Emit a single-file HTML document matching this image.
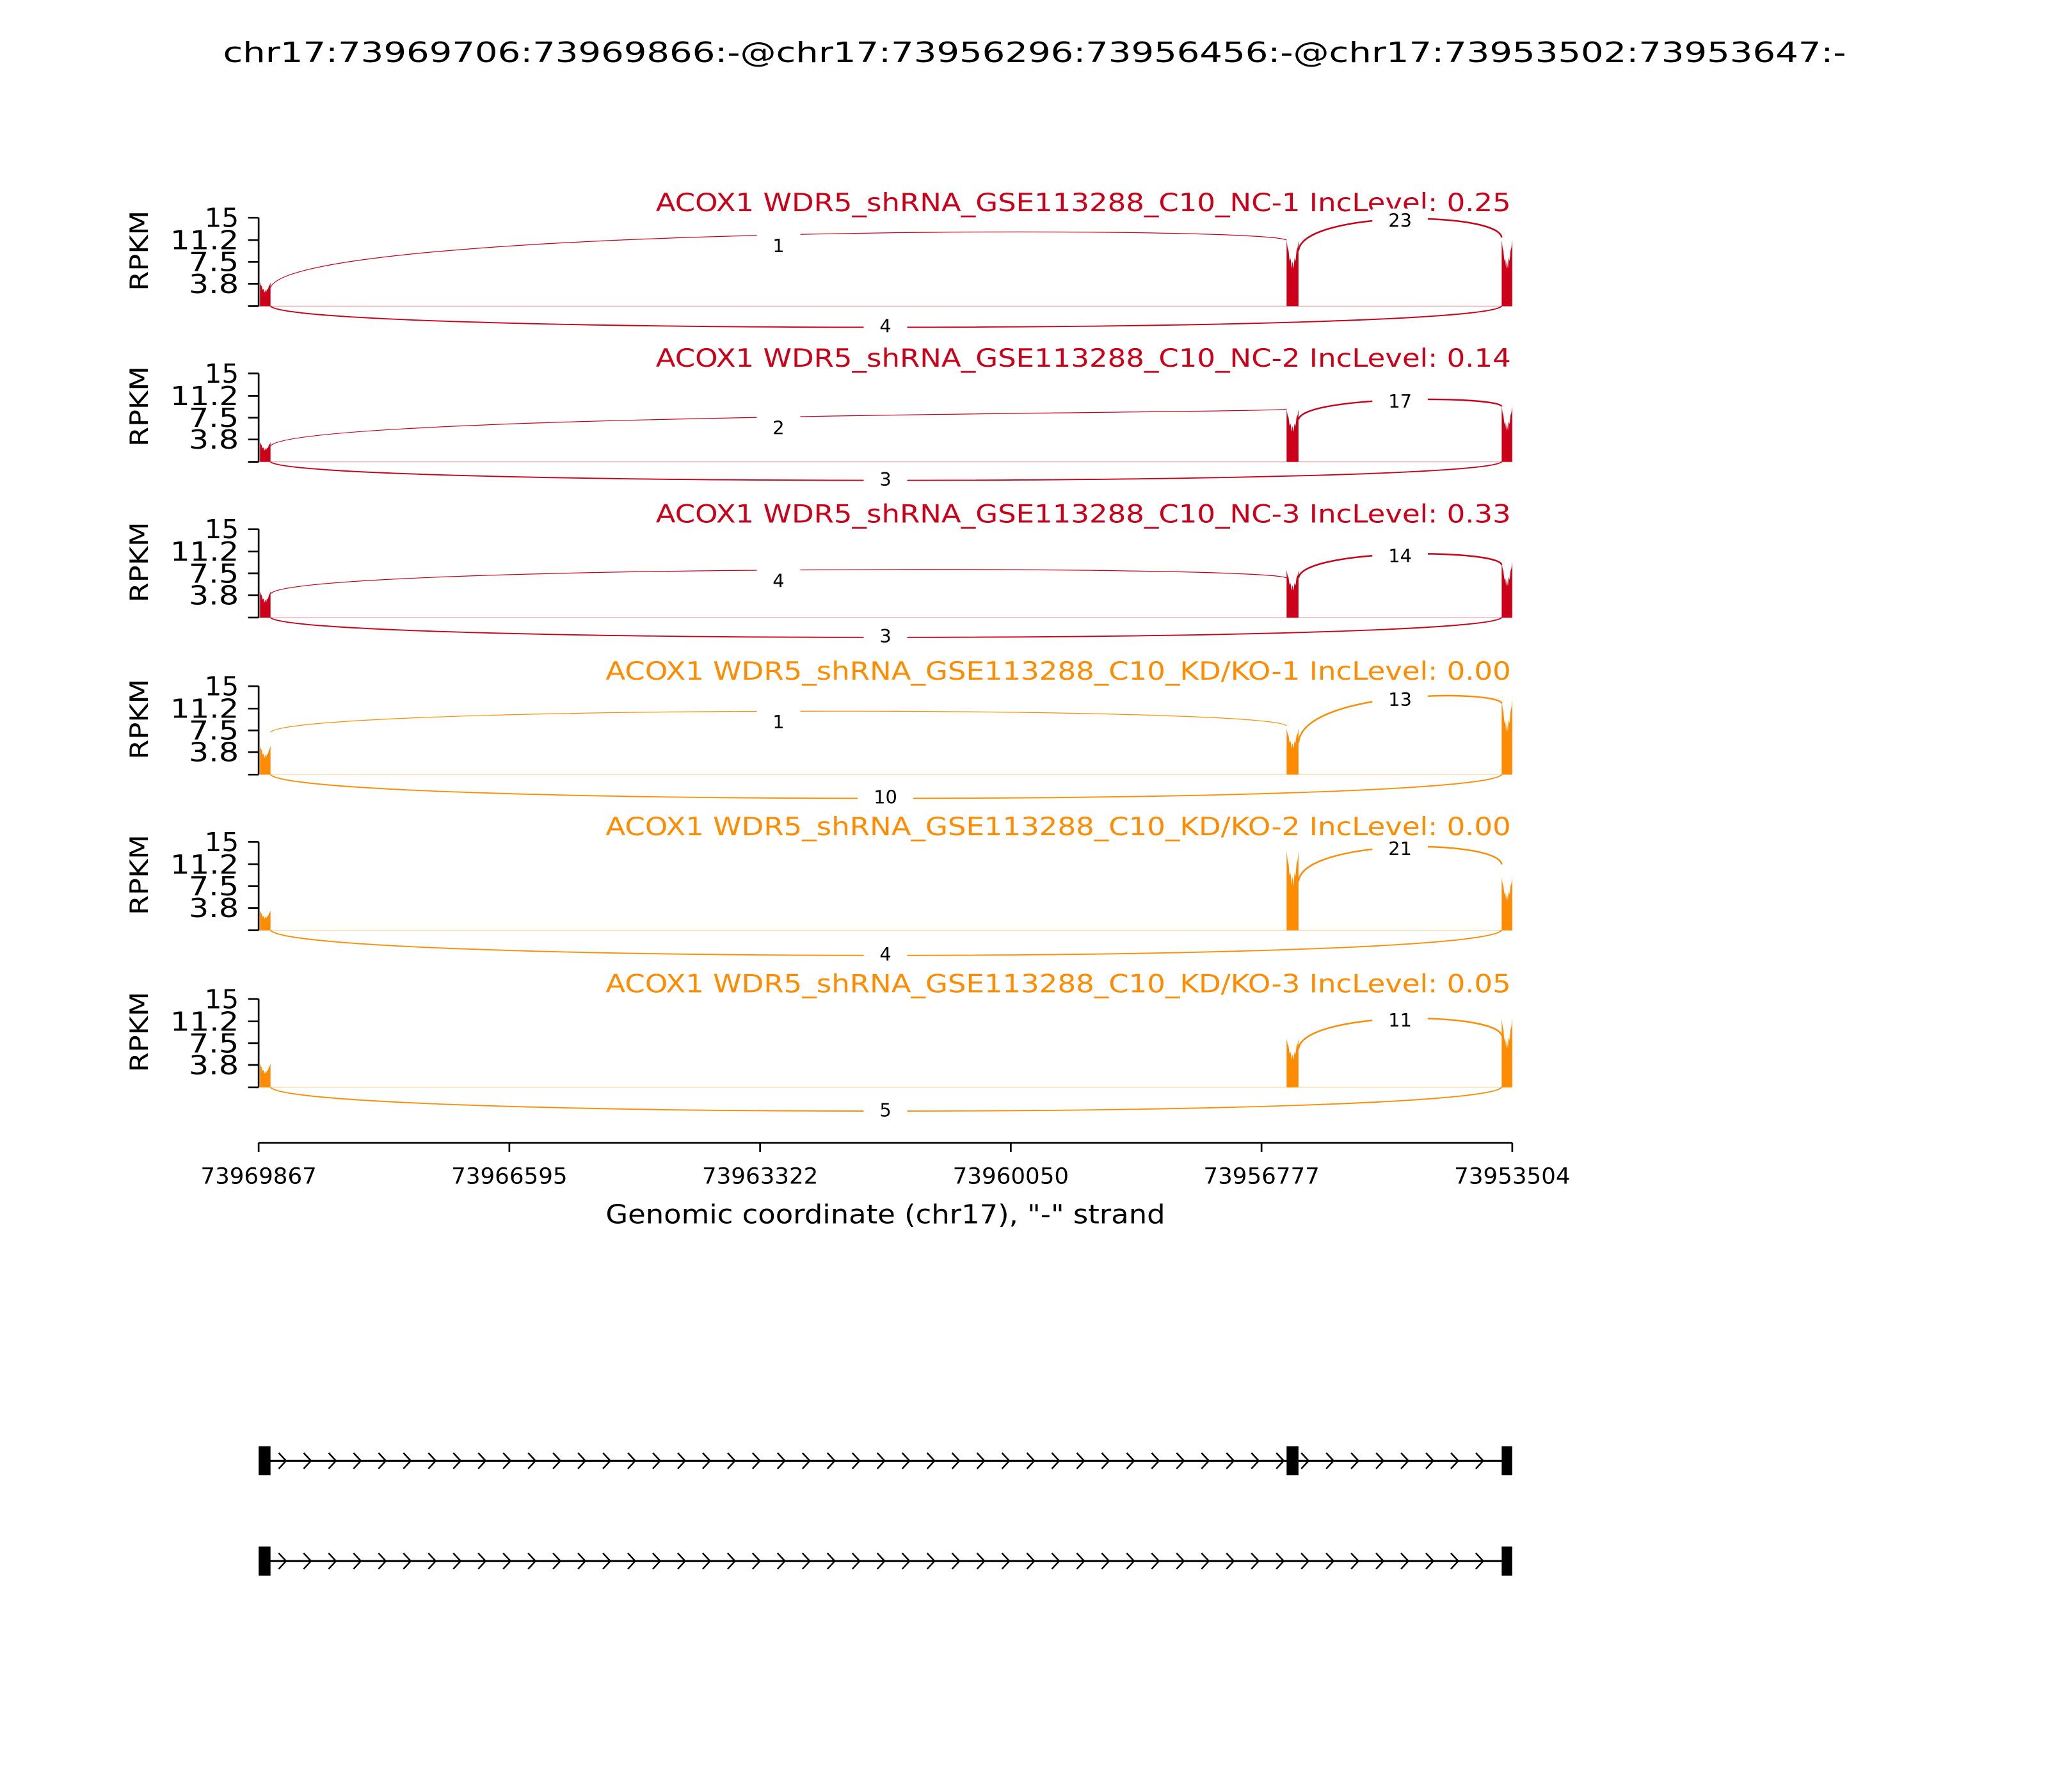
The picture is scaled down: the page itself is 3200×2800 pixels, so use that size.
<!DOCTYPE html>
<html><head><meta charset="utf-8">
<style>
html,body{margin:0;padding:0;background:#fff;}
svg{display:block;}
text{font-family:"DejaVu Sans","Liberation Sans",sans-serif;}
</style></head>
<body>
<svg id="s" xmlns="http://www.w3.org/2000/svg" width="3200" height="2800" viewBox="0 0 1552 1358" preserveAspectRatio="none">
<rect width="1552" height="1358" fill="#fff"/>
<text x="784" y="47" font-size="21" text-anchor="middle" textLength="1230" lengthAdjust="spacingAndGlyphs">chr17:73969706:73969866:-@chr17:73956296:73956456:-@chr17:73953502:73953647:-</text>
<g id="panels"></g>
<!-- x axis -->
<g stroke="#000" stroke-width="1.3" fill="none">
<line x1="196" y1="866" x2="1146" y2="866"/>
<line x1="196" y1="866" x2="196" y2="873"/><line x1="386" y1="866" x2="386" y2="873"/>
<line x1="576" y1="866" x2="576" y2="873"/><line x1="766" y1="866" x2="766" y2="873"/>
<line x1="956" y1="866" x2="956" y2="873"/><line x1="1146" y1="866" x2="1146" y2="873"/>
</g>
<g font-size="17" text-anchor="middle" lengthAdjust="spacingAndGlyphs">
<text x="196" y="897" textLength="88" lengthAdjust="spacingAndGlyphs">73969867</text><text x="386" y="897" textLength="88" lengthAdjust="spacingAndGlyphs">73966595</text><text x="576" y="897" textLength="88" lengthAdjust="spacingAndGlyphs">73963322</text>
<text x="766" y="897" textLength="88" lengthAdjust="spacingAndGlyphs">73960050</text><text x="956" y="897" textLength="88" lengthAdjust="spacingAndGlyphs">73956777</text><text x="1146" y="897" textLength="88" lengthAdjust="spacingAndGlyphs">73953504</text>
</g>
<text x="671" y="927" font-size="20" text-anchor="middle" textLength="424" lengthAdjust="spacingAndGlyphs">Genomic coordinate (chr17), "-" strand</text>
<g id="genes"></g>
</svg>
<script>
var NS="http://www.w3.org/2000/svg";
function el(p,t,a,txt){var e=document.createElementNS(NS,t);for(var k in a)e.setAttribute(k,a[k]);if(txt!==undefined)e.textContent=txt;p.appendChild(e);return e;}
var P=document.getElementById("panels");
var RED="#cc0018",OR="#ff8c00";
var panels=[
 {b:232,c:RED,t:"ACOX1 WDR5_shRNA_GSE113288_C10_NC-1 IncLevel: 0.25",lc:18,mc:50,rc:50,
  a1:{y1:218,y2:182,pk:178,l:"1"},a2:{y1:190,y2:180,pk:166,l:"23"},lo:{pk:248,l:"4"}},
 {b:350,c:RED,t:"ACOX1 WDR5_shRNA_GSE113288_C10_NC-2 IncLevel: 0.14",lc:15,mc:40,rc:42,
  a1:{y1:338,y2:310,pk:316,l:"2"},a2:{y1:318,y2:308,pk:303,l:"17"},lo:{pk:364,l:"3"}},
 {b:468,c:RED,t:"ACOX1 WDR5_shRNA_GSE113288_C10_NC-3 IncLevel: 0.33",lc:20,mc:36,rc:42,
  a1:{y1:450,y2:438,pk:432,l:"4"},a2:{y1:438,y2:428,pk:420,l:"14"},lo:{pk:483,l:"3"}},
 {b:587,c:OR,t:"ACOX1 WDR5_shRNA_GSE113288_C10_KD/KO-1 IncLevel: 0.00",lc:22,mc:35,rc:57,
  a1:{y1:555,y2:550,pk:539,l:"1"},a2:{y1:563,y2:533,pk:529,l:"13"},lo:{pk:605,l:"10"}},
 {b:705,c:OR,t:"ACOX1 WDR5_shRNA_GSE113288_C10_KD/KO-2 IncLevel: 0.00",lc:15,mc:60,rc:40,
  a1:null,a2:{y1:668,y2:655,pk:642,l:"21"},lo:{pk:724,l:"4"}},
 {b:824,c:OR,t:"ACOX1 WDR5_shRNA_GSE113288_C10_KD/KO-3 IncLevel: 0.05",lc:18,mc:37,rc:52,
  a1:null,a2:{y1:795,y2:785,pk:772,l:"11"},lo:{pk:842,l:"5"}}
];
function arc(g,x1,y1,x2,y2,pk,col,w){
 var yc=(pk-0.125*(y1+y2))/0.75;
 el(g,"path",{d:"M"+x1+" "+y1+" C"+(x1+(x2-x1)*0.02)+" "+yc+" "+(x2-(x2-x1)*0.02)+" "+yc+" "+x2+" "+y2,fill:"none",stroke:col,"stroke-width":w});
}
function lab(g,x,y,t){
 var w=t.length*9+24;
 el(g,"rect",{x:x-w/2,y:y-9,width:w,height:17,fill:"#fff"});
 el(g,"text",{x:x,y:y+5,"font-size":"14","text-anchor":"middle"},t);
}
function cov(g,x1,x2,h,b,col){
 var pts=[[x1,b]],n=12;
 for(var i=0;i<=n;i++){var x=x1+(x2-x1)*i/n;var f=1-0.45*Math.sin(Math.PI*i/n)*(i%2?1:0.7);pts.push([x,b-h*f]);}
 pts.push([x2,b]);
 el(g,"polygon",{points:pts.map(function(p){return p[0].toFixed(1)+","+p[1].toFixed(1)}).join(" "),fill:col});
}
var tl={"15":26,"11.2":52,"7.5":38,"3.8":38};
panels.forEach(function(p){
 var g=el(P,"g",{});var b=p.b,top=b-67;
 el(g,"line",{x1:196,y1:top,x2:196,y2:b,stroke:"#000","stroke-width":1.3});
 [15,11.2,7.5,3.8,0].forEach(function(v){var y=b-67*v/15;
  el(g,"line",{x1:188,y1:y,x2:196,y2:y,stroke:"#000","stroke-width":1.3});
  if(v>0)el(g,"text",{x:181,y:y+7,"font-size":"20","text-anchor":"end",textLength:tl[String(v)],lengthAdjust:"spacingAndGlyphs"},String(v));});
 el(g,"text",{x:0,y:0,"font-size":"19","text-anchor":"middle",textLength:61,lengthAdjust:"spacingAndGlyphs",transform:"translate(112,"+(b-42)+") rotate(-90)"},"RPKM");
 el(g,"text",{x:1145,y:top-5,"font-size":"19","text-anchor":"end",fill:p.c,textLength:p.t.length>52?686:648,lengthAdjust:"spacingAndGlyphs"},p.t);
 el(g,"line",{x1:196,y1:b,x2:1146,y2:b,stroke:p.c,"stroke-width":0.6,opacity:0.35});
 cov(g,197,205,p.lc,b,p.c);
 cov(g,975,984,p.mc,b,p.c);
 cov(g,1138,1146,p.rc,b,p.c);
 if(p.a1){arc(g,205,p.a1.y1,975,p.a1.y2,p.a1.pk,p.c,0.6);lab(g,590,p.a1.pk+8,p.a1.l);}
 arc(g,984,p.a2.y1,1138,p.a2.y2,p.a2.pk,p.c,1.2);lab(g,1061,p.a2.pk+1,p.a2.l);
 arc(g,205,b,1138,b,p.lo.pk,p.c,0.9);lab(g,671,p.lo.pk-1,p.lo.l);
});
var G=document.getElementById("genes");
function track(y,exons){
 el(G,"line",{x1:200,y1:y,x2:1143,y2:y,stroke:"#000","stroke-width":1.5});
 for(var x=214;x<1140;x+=18.9){
  el(G,"path",{d:"M"+(x-2.8)+" "+(y-6)+" L"+(x+2.8)+" "+y+" L"+(x-2.8)+" "+(y+6),fill:"none",stroke:"#000","stroke-width":1.2});
 }
 exons.forEach(function(e){el(G,"rect",{x:e[0],y:y-11,width:e[1]-e[0],height:22,fill:"#000"});});
}
track(1107,[[196,205],[975,984],[1138,1146]]);
track(1183,[[196,205],[1138,1146]]);
</script>
</body></html>
